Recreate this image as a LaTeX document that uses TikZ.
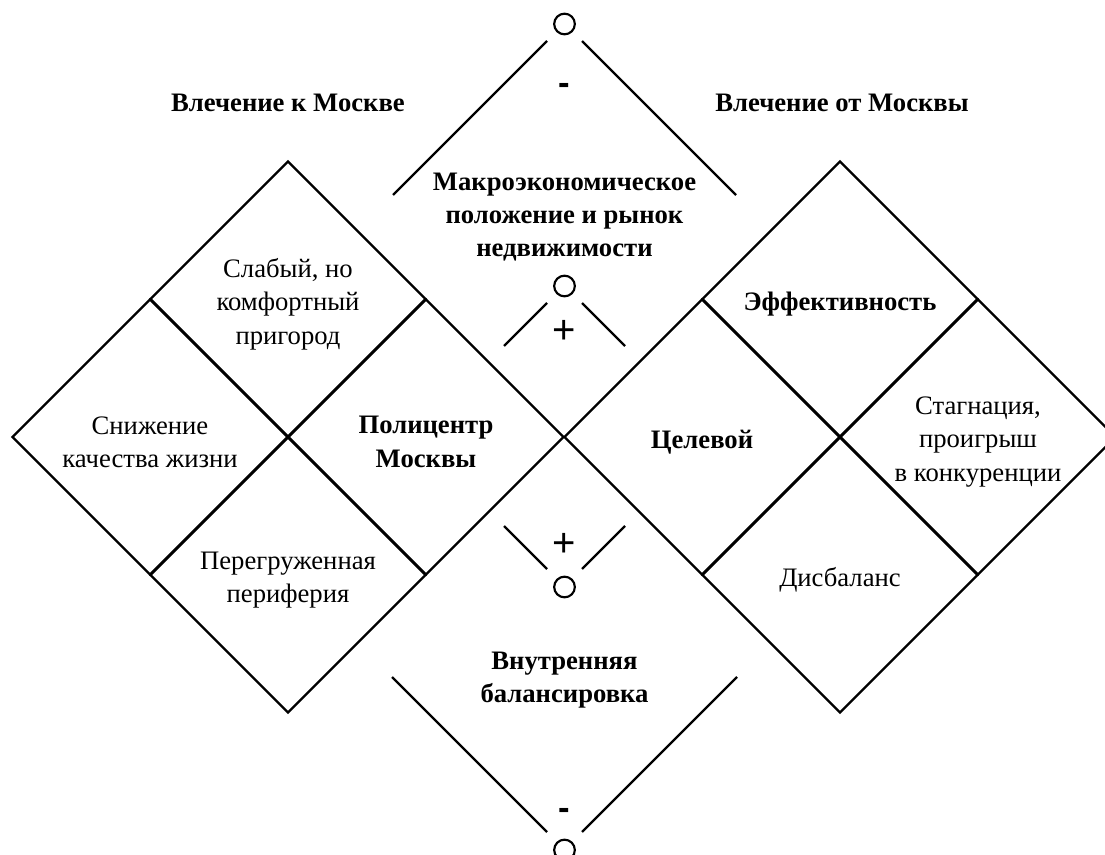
\documentclass[tikz,border=0pt]{standalone}
\usepackage{fontspec}
\setmainfont{Liberation Serif}
\newfontfamily\signfont{Liberation Sans}
\usetikzlibrary{shapes.geometric,calc}

\begin{document}
\begin{tikzpicture}[x=0.75pt,y=-0.75pt,font=\fontsize{20}{25}\selectfont,
 cell/.style={draw,diamond,aspect=1,inner sep=0pt,minimum width=207pt,minimum height=207pt,line width=1.7pt},
 txt/.style={align=center,inner sep=0pt,yshift=-3.75pt},
 keytxt/.style={txt,font=\fontsize{20}{25}\selectfont\bfseries},
 hdr/.style={font=\fontsize{20}{25}\selectfont\bfseries,align=center},
 sgn/.style={font=\fontsize{30}{30}\selectfont\signfont,inner sep=0pt,anchor=base},
 minus/.style={sgn,font=\fontsize{26}{26}\selectfont\signfont\bfseries},
 ring/.style={draw,circle,minimum size=15.5pt,inner sep=0pt,line width=1.6pt},
 ln/.style={line width=1.7pt}]
\useasboundingbox (0,0) rectangle (1105,855);
% left block
\node[cell] (lt) at (288,299) {};
\node[cell] (ll) at (150,437) {};
\node[cell] (lr) at (426,437) {};
\node[cell] (lb) at (288,575) {};
\node[txt] (lt-t) at (lt) {Слабый, но\\ комфортный\\ пригород};
\node[txt] (ll-t) at (ll) {Снижение\\ качества жизни};
\node[keytxt] (lr-t) at (lr) {Полицентр\\ Москвы};
\node[txt] (lb-t) at (lb) {Перегруженная\\ периферия};
% right block
\node[cell] (rt) at (840,299) {};
\node[cell] (rl) at (702,437) {};
\node[cell] (rr) at (978,437) {};
\node[cell] (rb) at (840,575) {};
\node[keytxt] (rt-t) at (rt) {Эффективность};
\node[keytxt] (rl-t) at (rl) {Целевой};
\node[txt] (rr-t) at (rr) {Стагнация,\\ проигрыш\\ в конкуренции};
\node[txt] (rb-t) at (rb) {Дисбаланс};
% headers
\node[hdr] (pull) at (288,103) {Влечение к Москве};
\node[hdr] (push) at (842,103) {Влечение от Москвы};
\node[hdr] (macro) at (564.5,217) {Макроэкономическое\\ положение и рынок\\ недвижимости};
\node[hdr] (inner) at (564.5,680) {Внутренняя\\ балансировка};
% signs
\node[ring] (otop) at (564.5,24) {};
\node[minus] (mtop) at (564.5,95) {-};
\node[ring] (oup) at (564.5,286) {};
\node[sgn] (pup) at (564.5,343) {+};
\node[sgn] (pdn) at (564.5,556) {+};
\node[ring] (odn) at (564.5,587) {};
\node[minus] (mbot) at (564.5,819) {-};
\node[ring] (obot) at (564.5,850) {};
% open corners
\draw[ln] ($(otop)+(-17.5,17)$) -- ++(-154,154);
\draw[ln] ($(otop)+(17.5,17)$) -- ++(154,154);
\draw[ln] ($(oup)+(-17.5,17)$) -- ++(-43,43);
\draw[ln] ($(oup)+(17.5,17)$) -- ++(43,43);
\draw[ln] ($(odn)+(-17.5,-18)$) -- ++(-43,-43);
\draw[ln] ($(odn)+(17.5,-18)$) -- ++(43,-43);
\draw[ln] ($(obot)+(-17.5,-18)$) -- ++(-155,-155);
\draw[ln] ($(obot)+(17.5,-18)$) -- ++(155,-155);
\end{tikzpicture}
\end{document}
